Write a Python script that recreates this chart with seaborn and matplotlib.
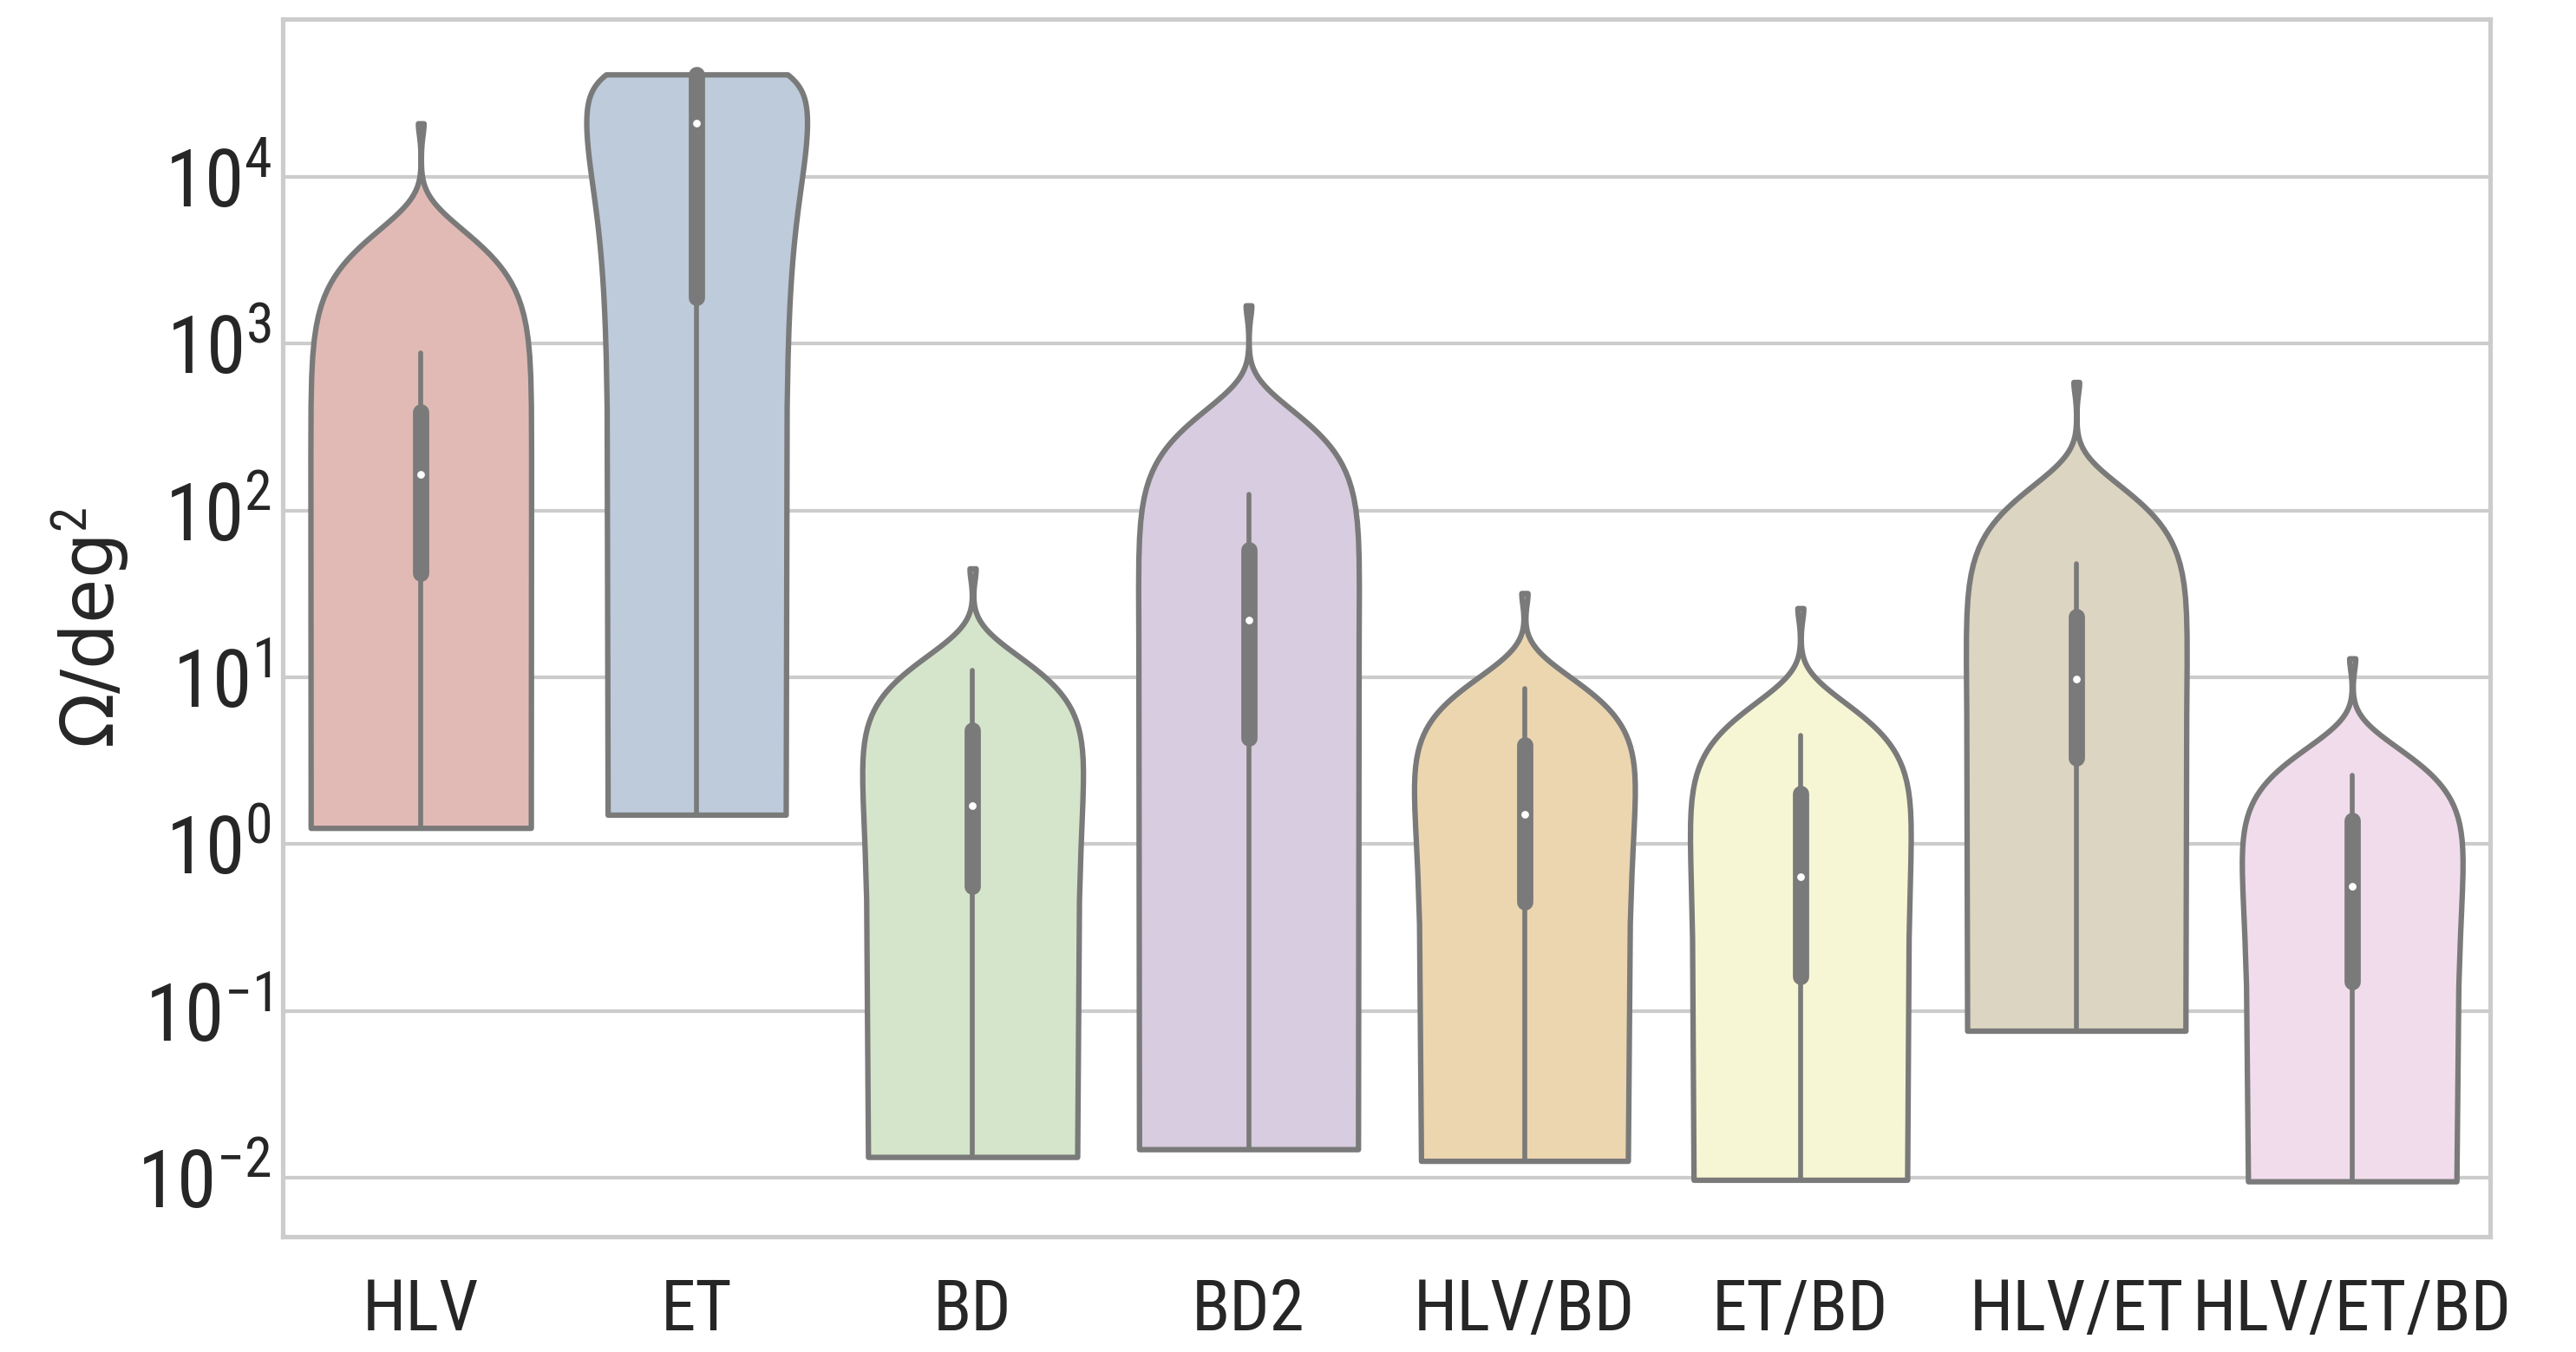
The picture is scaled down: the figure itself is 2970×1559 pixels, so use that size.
import numpy as np
import pandas as pd
import matplotlib
matplotlib.use("Agg")
import matplotlib.pyplot as plt
from matplotlib import font_manager
import seaborn as sns

# Sky-localisation areas (deg^2) for each detector network
categories = ["HLV", "ET", "BD", "BD2", "HLV/BD", "ET/BD", "HLV/ET", "HLV/ET/BD"]

hlv = [1.25, 3, 6, 9, 14, 19, 25, 30, 35, 40,
       43, 50, 60, 72, 85, 100, 115, 130, 145, 160,
       170, 185, 200, 220, 245, 270, 295, 320, 350, 380,
       420, 450, 490, 530, 580, 640, 700, 780, 880, 21000]
et = [1.5, 4, 12, 40, 110, 250, 480, 800, 1200, 1600,
      2000, 3000, 4500, 6500, 9000, 11000, 13000, 15500, 17500, 19500,
      22500, 24500, 27000, 29000, 31000, 33000, 35000, 37000, 39500, 41253,
      41253, 41253, 41253, 41253, 41253, 41253, 41253, 41253, 41253, 41253]
bd = [0.0133, 0.03, 0.06, 0.1, 0.15, 0.2, 0.27, 0.34, 0.42, 0.5,
      0.58, 0.66, 0.75, 0.85, 0.95, 1.05, 1.18, 1.3, 1.45, 1.6,
      1.8, 2.0, 2.2, 2.45, 2.7, 3.0, 3.3, 3.7, 4.1, 4.6,
      5.4, 6.0, 6.6, 7.2, 7.9, 8.6, 9.4, 10.2, 11.0, 45]
bd2 = [0.0148, 0.05, 0.12, 0.25, 0.45, 0.8, 1.3, 2.0, 2.9, 3.9,
       4.5, 5.5, 7, 8.5, 10, 12, 14, 16, 18, 20.5,
       23.5, 26, 29, 32, 35, 39, 43, 47, 51, 56,
       64, 70, 76, 83, 90, 98, 106, 115, 125, 1700]
hlv_bd = [0.0126, 0.03, 0.055, 0.09, 0.13, 0.18, 0.23, 0.29, 0.35, 0.41,
          0.46, 0.53, 0.61, 0.7, 0.8, 0.9, 1.0, 1.12, 1.25, 1.4,
          1.6, 1.75, 1.9, 2.1, 2.3, 2.5, 2.75, 3.0, 3.3, 3.7,
          4.6, 5.0, 5.4, 5.8, 6.3, 6.8, 7.3, 7.9, 8.6, 32]
et_bd = [0.0097, 0.015, 0.022, 0.03, 0.042, 0.056, 0.072, 0.09, 0.11, 0.14,
         0.167, 0.2, 0.24, 0.29, 0.34, 0.39, 0.44, 0.5, 0.55, 0.6,
         0.68, 0.76, 0.85, 0.95, 1.05, 1.17, 1.3, 1.45, 1.62, 1.85,
         2.45, 2.7, 2.95, 3.2, 3.45, 3.7, 3.95, 4.2, 4.5, 26]
hlv_et = [0.076, 0.15, 0.3, 0.5, 0.8, 1.1, 1.5, 2.0, 2.5, 3.0,
          3.4, 4.0, 4.6, 5.2, 5.9, 6.6, 7.3, 8.0, 8.7, 9.3,
          10.3, 11.2, 12.2, 13.3, 14.5, 15.8, 17.2, 18.7, 20.2, 22,
          26, 28, 30.5, 33, 35.5, 38.5, 41.5, 44.5, 48, 590]
hlv_et_bd = [0.0095, 0.014, 0.02, 0.028, 0.038, 0.05, 0.065, 0.085, 0.11, 0.135,
             0.155, 0.18, 0.21, 0.25, 0.29, 0.33, 0.38, 0.43, 0.48, 0.53,
             0.59, 0.65, 0.71, 0.77, 0.84, 0.92, 1.0, 1.09, 1.18, 1.28,
             1.68, 1.8, 1.9, 2.0, 2.1, 2.2, 2.3, 2.45, 2.6, 13]

decades = [-2, -1, 0, 1, 2, 3, 4]

fill_colors = ["#e1bab6", "#bdcbdb", "#d5e5cb", "#d8cce0",
               "#ecd6b0", "#f7f6d4", "#dcd5c1", "#f1dcec"]

samples = [hlv, et, bd, bd2, hlv_bd, et_bd, hlv_et, hlv_et_bd]
df = pd.DataFrame({
    "network": np.repeat(categories, [len(s) for s in samples]),
    "area": np.concatenate([np.asarray(s, dtype=float) for s in samples]),
})


def _weight(entry):
    w = entry.weight
    return font_manager.weight_dict.get(w, w) if isinstance(w, str) else w


def narrow_sans():
    """Return (family, stretch) of an installed narrow sans-serif face."""
    regular = [f for f in font_manager.fontManager.ttflist
               if f.style == "normal" and _weight(f) == 400]
    names = {f.name for f in regular}
    for fam in ("Liberation Sans Narrow", "Arial Narrow", "Nimbus Sans Narrow",
                "Roboto Condensed", "Noto Sans Condensed", "Open Sans Condensed"):
        if fam in names:
            return fam, "normal"
    for key in ("Roboto", "Noto Sans", "Open Sans", "Liberation Sans"):
        for f in regular:
            if f.name.startswith(key) and "condensed" in str(f.stretch) \
                    and "Mono" not in f.name and "CJK" not in f.name:
                return f.name, str(f.stretch)
    return None, "normal"


sns.set_theme(style="whitegrid", font_scale=2)
narrow, stretch = narrow_sans()
base_font = narrow if narrow else "Liberation Sans"
xtick_size = 19.5 if narrow else 16.5
plt.rcParams["font.family"] = [base_font, "DejaVu Sans"]
plt.rcParams["font.stretch"] = stretch
plt.rcParams["mathtext.fontset"] = "custom"
plt.rcParams["mathtext.rm"] = base_font
plt.rcParams["mathtext.it"] = base_font
plt.rcParams["mathtext.bf"] = base_font

fig, ax = plt.subplots(figsize=(9.9, 5.1967), dpi=300)
sns.violinplot(
    data=df, x="network", y="area", order=categories,
    hue="network", hue_order=categories, palette=fill_colors, saturation=1,
    legend=False, cut=0, inner="box", density_norm="width", bw_method=1.0,
    linewidth=1.5, linecolor="#7a7a7a",
    inner_kws=dict(box_width=4.5, whis_width=1.35, marker="o",
                   markersize=1.4, markeredgewidth=0.7, solid_capstyle="round"),
    ax=ax,
)
ax.set_yscale("log")
ax.set_yticks([10.0 ** k for k in decades])
ax.set_xlabel("")
ax.set_ylabel("Ω/deg$^2$", fontsize=20, family=["DejaVu Sans"])
ax.yaxis.set_label_coords(-0.0688, 0.5)
ax.tick_params(axis="x", labelsize=xtick_size, length=0, pad=11.3)
ax.tick_params(axis="y", labelsize=22, length=0, pad=3.2)
fig.subplots_adjust(left=0.1098, right=0.9667, top=0.9859, bottom=0.0853)
fig.savefig("out.png", dpi=300)
